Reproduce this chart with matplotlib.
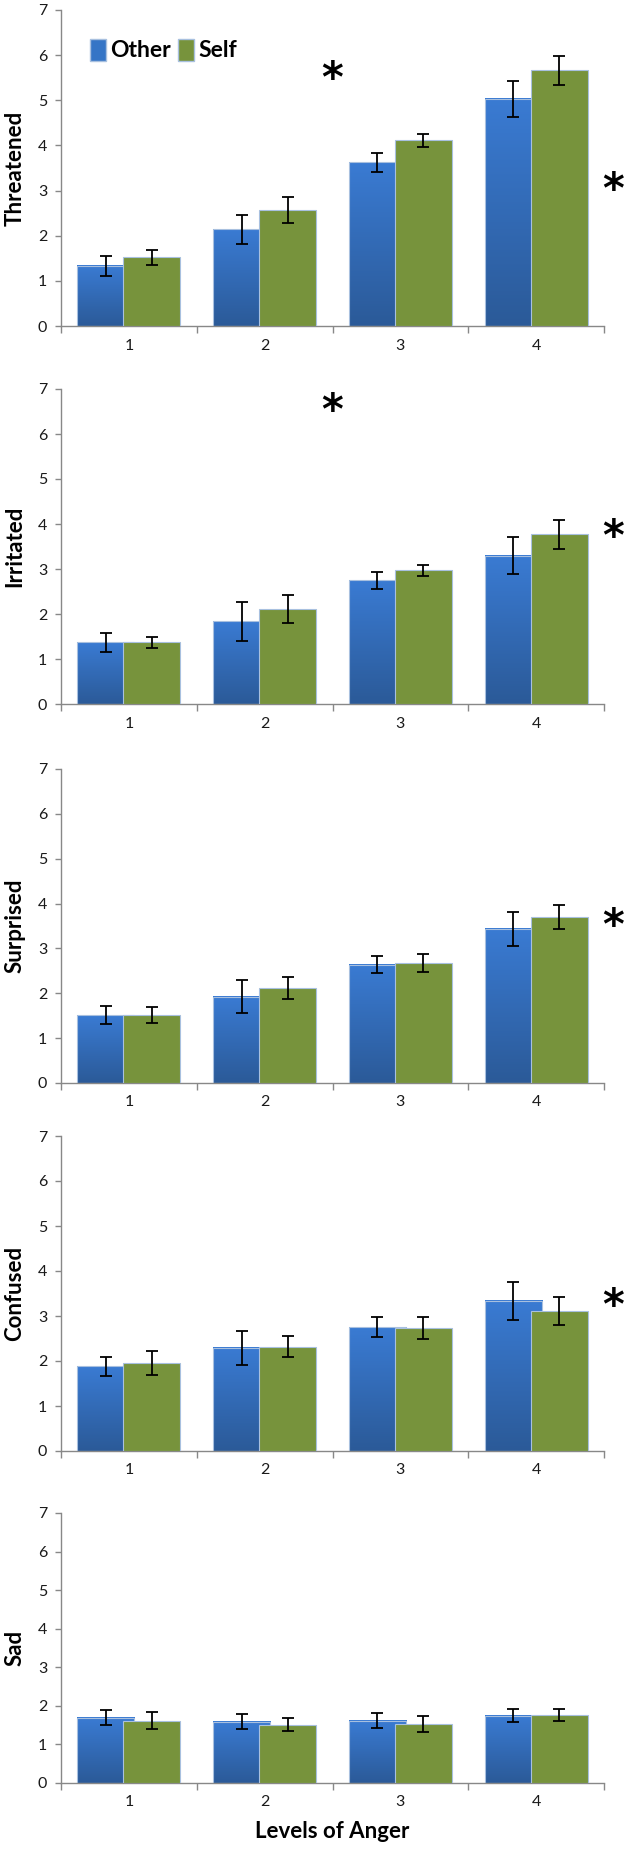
import numpy as np
import matplotlib
matplotlib.use("Agg")
import matplotlib.pyplot as plt
from matplotlib.colors import LinearSegmentedColormap
from matplotlib.patches import Patch

plt.rcParams['font.family'] = ['Lato', 'DejaVu Sans']

levels = ["1", "2", "3", "4"]
panel_labels = ["Threatened", "Irritated", "Surprised", "Confused", "Sad"]

other_means = [
    [1.33, 2.14, 3.63, 5.03],
    [1.37, 1.84, 2.75, 3.30],
    [1.51, 1.92, 2.64, 3.44],
    [1.88, 2.29, 2.75, 3.34],
    [1.69, 1.59, 1.62, 1.75],
]
other_err = [
    [0.23, 0.32, 0.21, 0.40],
    [0.21, 0.43, 0.19, 0.42],
    [0.20, 0.37, 0.19, 0.38],
    [0.22, 0.37, 0.22, 0.42],
    [0.19, 0.20, 0.19, 0.17],
]
self_means = [
    [1.52, 2.57, 4.11, 5.66],
    [1.37, 2.11, 2.97, 3.77],
    [1.51, 2.12, 2.67, 3.70],
    [1.96, 2.32, 2.73, 3.11],
    [1.62, 1.51, 1.54, 1.77],
]
self_err = [
    [0.16, 0.29, 0.14, 0.33],
    [0.12, 0.32, 0.13, 0.33],
    [0.18, 0.25, 0.20, 0.26],
    [0.27, 0.24, 0.24, 0.31],
    [0.22, 0.17, 0.21, 0.15],
]
# significance markers: (panel index, x position in category units, y value)
star_panel = [0, 0, 1, 1, 2, 3]
star_x = [2.5, 4.57, 2.5, 4.57, 4.57, 4.57]
star_y = [5.45, 3.0, 6.5, 3.68, 3.48, 3.2]

W, H = 629, 1854
fig = plt.figure(figsize=(W / 100, H / 100), dpi=100)

ax_left, ax_right = 61, 604
zeros_px = [326, 704, 1083, 1451, 1783]
tops_px = [10, 389, 769, 1136, 1513]

blue_cmap = LinearSegmentedColormap.from_list("b", ["#2B5A98", "#3A7BD3"])
grad = np.linspace(0, 1, 256).reshape(-1, 1)
green = "#77933C"
edge = "#A8C0DF"

x = np.arange(1, len(levels) + 1)
bw = 0.42
off = 0.17

for i, lab in enumerate(panel_labels):
    z, t = zeros_px[i], tops_px[i]
    ax = fig.add_axes([ax_left / W, 1 - z / H, (ax_right - ax_left) / W, (z - t) / H])
    bars_o = ax.bar(x - off, other_means[i], bw, color="#3A7BD3", edgecolor=edge,
                    linewidth=0.8, zorder=2)
    for p in bars_o:
        x0, w, h = p.get_x(), p.get_width(), p.get_height()
        ax.imshow(grad, extent=(x0, x0 + w, 0, h), origin="lower", aspect="auto",
                  cmap=blue_cmap, zorder=2, interpolation="bilinear")
        p.set_facecolor("none")
        p.set_zorder(2.5)
    ax.bar(x + off, self_means[i], bw, color=green, edgecolor=edge, linewidth=0.8, zorder=3)
    ax.errorbar(x - off, other_means[i], yerr=other_err[i], fmt="none", ecolor="black",
                elinewidth=1.3, capsize=4, capthick=1.3, zorder=4)
    ax.errorbar(x + off, self_means[i], yerr=self_err[i], fmt="none", ecolor="black",
                elinewidth=1.3, capsize=4, capthick=1.3, zorder=4)

    ax.set_xlim(0.5, 4.5)
    ax.set_ylim(0, 7)
    ax.set_yticks(range(0, 8))
    ax.set_xticks(x)
    ax.set_xticklabels(levels)
    ax.set_xticks(np.arange(0.5, 4.6, 1.0), minor=True)
    ax.tick_params(axis="x", which="major", length=0, pad=9, labelsize=11.5, labelcolor="#1a1a1a")
    ax.tick_params(axis="x", which="minor", length=5, width=1, color="#888888", direction="out")
    ax.tick_params(axis="y", length=4, width=1, color="#888888", direction="out",
                   labelsize=11.5, labelcolor="#1a1a1a", pad=6)
    for s in ["top", "right"]:
        ax.spines[s].set_visible(False)
    for s in ["left", "bottom"]:
        ax.spines[s].set_color("#888888")
        ax.spines[s].set_linewidth(1)
    ax.set_ylabel(lab, fontsize=16, fontweight="bold", labelpad=9)
    ax.patch.set_alpha(0)

    for sp, sx, sy in zip(star_panel, star_x, star_y):
        if sp == i:
            ax.text(sx, sy, "*", fontsize=30, fontweight="bold", ha="center", va="center",
                    clip_on=False, family="DejaVu Sans")

    if i == 0:
        handles = [Patch(facecolor="#3575C6", edgecolor=edge), Patch(facecolor=green, edgecolor=edge)]
        ax.legend(handles, ["Other", "Self"], loc="upper left", bbox_to_anchor=(0.015, 0.975),
                  frameon=False, handlelength=0.7, handleheight=1.1, handletextpad=0.2,
                  columnspacing=0.3, ncol=2, prop={"weight": "bold", "size": 16.5})
    if i == len(panel_labels) - 1:
        ax.set_xlabel("Levels of Anger", fontsize=16, fontweight="bold", labelpad=8)

fig.savefig("out.png", dpi=100)
